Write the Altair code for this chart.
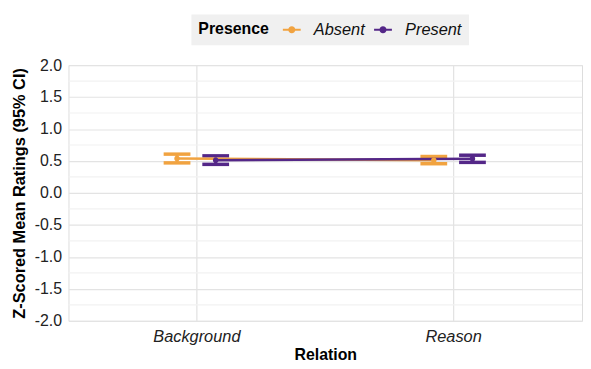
import altair as alt
import pandas as pd

relation = ["Background", "Background", "Reason", "Reason"]
presence = ["Absent", "Present", "Absent", "Present"]
mean_z = [0.54, 0.51, 0.51, 0.535]
ci_low = [0.47, 0.447, 0.457, 0.478]
ci_high = [0.607, 0.58, 0.57, 0.59]

y_major = [-2, -1.5, -1, -0.5, 0, 0.5, 1, 1.5, 2]
y_minor = [-1.75, -1.25, -0.75, -0.25, 0.25, 0.75, 1.25, 1.75]

df = pd.DataFrame({"Relation": relation, "Presence": presence,
                   "mean": mean_z, "lo": ci_low, "hi": ci_high})
minor_df = pd.DataFrame({"v": y_minor})

FONT = "Liberation Sans"
colors = ["#f1a340", "#542788"]

x_axis = alt.Axis(labelAngle=0, labelFontStyle="italic", labelFontSize=16.5,
                  labelColor="#222", titleFontSize=16, titleFontWeight="bold",
                  titleColor="#000", domain=False, ticks=False,
                  grid=True, gridColor="#e3e3e3", gridWidth=1.3,
                  bandPosition=0.5, labelPadding=8, titlePadding=2,
                  labelFont=FONT, titleFont=FONT)
x_scale = alt.Scale(paddingInner=0, paddingOuter=0)
x_enc = alt.X("Relation:N", title="Relation", scale=x_scale, axis=x_axis)
xo_enc = alt.XOffset("Presence:N",
                     scale=alt.Scale(domain=["Absent", "Present"], paddingInner=0,
                                     paddingOuter=0, range=[90, 168]))
y_scale = alt.Scale(domain=[-2, 2], nice=False, zero=False)
y_axis = alt.Axis(values=y_major, tickCount=40, format=".1f", labelOverlap=False,
                  labelExpr="replace(datum.label, '\u2212', '-')",
                  title="Z-Scored Mean Ratings (95% CI)",
                  gridColor="#e3e3e3", gridWidth=1.2, domain=False, ticks=False,
                  labelFontSize=16, labelColor="#222", labelPadding=7,
                  titleFontSize=16.5, titleFontWeight="bold", titleColor="#000",
                  titlePadding=7, labelFont=FONT, titleFont=FONT)
legend = alt.Legend(
    title="Presence", orient="none", legendX=124, legendY=-51,
    direction="horizontal", titleOrient="left",
    titleFontSize=16, titleFontWeight="bold", titleColor="#000",
    titleFont=FONT, labelFont=FONT, labelFontSize=16.5,
    labelFontStyle="italic", labelColor="#111",
    fillColor="#f0f0f0", padding=7,
    symbolType="M-1.8,0H1.8M0,-0.5A0.5,0.5,0,1,1,0,0.5A0.5,0.5,0,1,1,0,-0.5Z",
    symbolSize=100, symbolStrokeWidth=2.2, symbolOpacity=1,
    columnPadding=4, titlePadding=14, labelOffset=14,
    titleBaseline="middle")
color_enc = alt.Color("Presence:N", scale=alt.Scale(domain=["Absent", "Present"], range=colors),
                      legend=legend)

minor = alt.Chart(minor_df).mark_rule(color="#f2f2f2", strokeWidth=1.2).transform_calculate(
    yv="datum.v")

base = alt.Chart(df)

rule = base.mark_rule(strokeWidth=3, opacity=1).transform_calculate(yv="datum.lo").encode(
    x=x_enc, xOffset=xo_enc, y2="hi:Q", color=color_enc)
cap_lo = base.mark_tick(thickness=3.5, size=27, opacity=1).transform_calculate(
    yv="datum.lo").encode(x=x_enc, xOffset=xo_enc, color=color_enc)
cap_hi = base.mark_tick(thickness=3.5, size=27, opacity=1).transform_calculate(
    yv="datum.hi").encode(x=x_enc, xOffset=xo_enc, color=color_enc)
line = base.mark_line(strokeWidth=2.5).transform_calculate(yv="datum.mean").encode(
    x=x_enc, xOffset=xo_enc, color=color_enc, detail="Presence:N")
point = base.mark_point(filled=True, size=30, opacity=1).transform_calculate(
    yv="datum.mean").encode(x=x_enc, xOffset=xo_enc, color=color_enc)

chart = alt.layer(minor, rule, cap_lo, cap_hi, line, point).encode(
    y=alt.Y("yv:Q", scale=y_scale, axis=y_axis)
).properties(
    width=518, height=258,
    padding={"left": 3, "top": 5, "right": 0, "bottom": 0},
).configure_view(stroke=None).configure(background="white").configure_axisY(
    labelOverlap=False)

chart.save("out.html", embed_options={"renderer": "svg", "actions": False})
